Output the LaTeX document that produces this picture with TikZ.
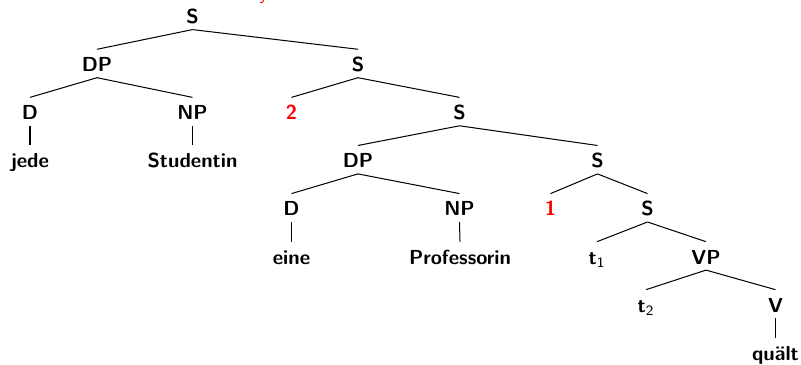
\documentclass[tikz,border=0pt]{standalone}
\usepackage{fixltx2e}
\begin{document}
\begin{tikzpicture}[x=0.4926pt,y=-0.4926pt,
  lbl/.style={anchor=base,font=\sffamily\bfseries,text height=8pt,text depth=0pt,inner sep=2.8pt},
  idx/.style={lbl,text=red},
  branch/.style={line width=0.5pt,black}]
\useasboundingbox (0,0) rectangle (801,364);
% fragment of a red label above the tree
\node[anchor=base,font=\sffamily,text=red,inner sep=0pt] (frag) at (264,-0.5) {y};
% nodes, placed on their baselines
\node[lbl] (s0) at (192.5,23.5) {S};
\node[lbl] (dp1) at (97,71.6) {DP};
\node[lbl] (s1) at (358,71.6) {S};
\node[lbl] (d1) at (30,119.7) {D};
\node[lbl] (np1) at (192.5,119.7) {NP};
\node[idx] (i2) at (291.5,119.7) {2};
\node[lbl] (s2) at (459.5,119.7) {S};
\node[lbl] (jede) at (30,167.8) {jede};
\node[lbl] (stud) at (192.5,167.8) {Studentin};
\node[lbl] (dp2) at (358,167.8) {DP};
\node[lbl] (s3) at (597.5,167.8) {S};
\node[lbl] (d2) at (291.5,215.9) {D};
\node[lbl] (np2) at (459.5,215.9) {NP};
\node[idx] (i1) at (550.5,215.9) {1};
\node[lbl] (s4) at (647.5,215.9) {S};
\node[lbl] (eine) at (291.5,264) {eine};
\node[lbl] (prof) at (460,264) {Professorin};
\node[lbl] (t1) at (597,264) {t\textsubscript{\mdseries 1}};
\node[lbl] (vp) at (706,264) {VP};
\node[lbl] (t2) at (646,312) {t\textsubscript{\mdseries 2}};
\node[lbl] (v) at (775.5,312) {V};
\node[lbl] (qualt) at (775.5,360.2) {quält};
% branches
\foreach \p/\c in {s0/dp1,s0/s1,dp1/d1,dp1/np1,s1/i2,s1/s2,d1/jede,np1/stud,
                   s2/dp2,s2/s3,dp2/d2,dp2/np2,s3/i1,s3/s4,d2/eine,np2/prof,
                   s4/t1,s4/vp,vp/t2,vp/v,v/qualt}
  \draw[branch] (\p.south) -- (\c.north);
\end{tikzpicture}
\end{document}
